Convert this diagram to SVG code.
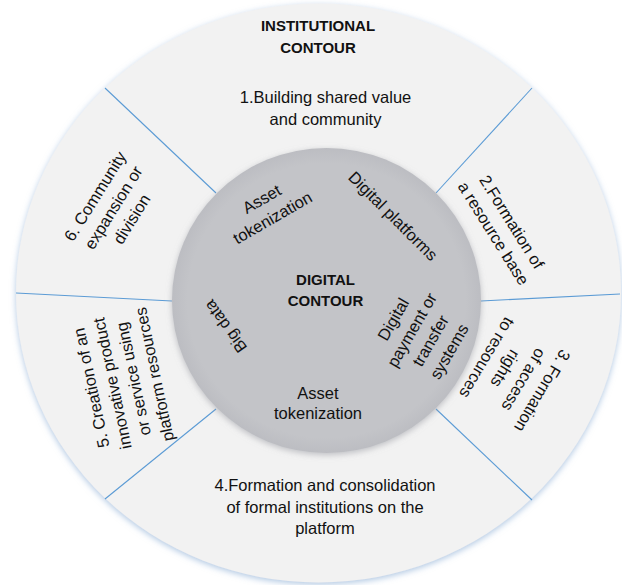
<svg xmlns="http://www.w3.org/2000/svg" width="622" height="585" viewBox="0 0 622 585">
<defs>
<filter id="outerShadow" x="-10%" y="-10%" width="120%" height="120%">
<feGaussianBlur in="SourceAlpha" stdDeviation="3"/>
<feOffset dx="0" dy="2" result="b"/>
<feFlood flood-color="#8fb0d6" flood-opacity="0.7"/>
<feComposite in2="b" operator="in"/>
<feMerge><feMergeNode/><feMergeNode in="SourceGraphic"/></feMerge>
</filter>
<filter id="innerShadow" x="-10%" y="-10%" width="120%" height="120%">
<feGaussianBlur in="SourceAlpha" stdDeviation="3"/>
<feOffset dx="0" dy="2" result="b"/>
<feFlood flood-color="#9a9ca3" flood-opacity="0.6"/>
<feComposite in2="b" operator="in"/>
<feMerge><feMergeNode/><feMergeNode in="SourceGraphic"/></feMerge>
</filter>
<radialGradient id="innerGrad" cx="50%" cy="50%" r="50%">
<stop offset="0.9" stop-color="#c3c4c8"/>
<stop offset="1" stop-color="#bcbdc2"/>
</radialGradient>
</defs>
<style>
text { font-family: "Liberation Sans", Arial, sans-serif; font-size: 16.5px; fill: #111; text-anchor: middle; }
.b { font-weight: bold; font-size: 15px; }
.sep { stroke: #5b9bd5; stroke-width: 1.1; fill: none; }
</style>
<rect width="622" height="585" fill="#ffffff"/>
<g id="outer-ring">
<ellipse cx="318.5" cy="293" rx="302.5" ry="289.5" fill="#f2f2f2" filter="url(#outerShadow)"/>
</g>
<g id="connectors">
<line class="sep" x1="105" y1="88" x2="216" y2="193"/>
<line class="sep" x1="532" y1="88" x2="436" y2="193"/>
<line class="sep" x1="16" y1="293" x2="172" y2="301"/>
<line class="sep" x1="481" y1="301" x2="620" y2="294"/>
<line class="sep" x1="216" y1="409" x2="105" y2="499"/>
<line class="sep" x1="436" y1="409" x2="532" y2="500"/>
</g>
<g id="inner-circle">
<ellipse cx="326.5" cy="300.5" rx="154.5" ry="152.5" fill="url(#innerGrad)" filter="url(#innerShadow)"/>
</g>
<g id="institutional-title">
<text class="b" x="318" y="31">INSTITUTIONAL</text>
<text class="b" x="318" y="53">CONTOUR</text>
</g>
<g id="digital-title">
<text class="b" x="325.5" y="285">DIGITAL</text>
<text class="b" x="325.5" y="306">CONTOUR</text>
</g>
<g id="seg1">
<text x="325.5" y="103">1.Building shared value</text>
<text x="325.5" y="124.5">and community</text>
</g>
<g id="seg2" transform="translate(502,228) rotate(58)">
<text x="0" y="-5.75">2.Formation of</text>
<text x="0" y="15.75">a resource base</text>
</g>
<g id="seg3" transform="translate(514,374) rotate(121)">
<text x="0" y="-27.25">3. Formation</text>
<text x="0" y="-5.75">of access</text>
<text x="0" y="15.75">rights</text>
<text x="0" y="37.25">to resources</text>
</g>
<g id="seg4">
<text x="325" y="490.5">4.Formation and consolidation</text>
<text x="325" y="512.5">of formal institutions on the</text>
<text x="325" y="534">platform</text>
</g>
<g id="seg5" transform="translate(123.5,381) rotate(-102)">
<text x="0" y="-27.25">5. Creation of an</text>
<text x="0" y="-5.75">innovative product</text>
<text x="0" y="15.75">or service using</text>
<text x="0" y="37.25">platform resources</text>
</g>
<g id="seg6" transform="translate(114,208) rotate(-58)">
<text x="0" y="-16.5">6. Community</text>
<text x="0" y="5">expansion or</text>
<text x="0" y="26.5">division</text>
</g>
<g id="d-asset-top" transform="translate(267.5,209) rotate(-30)">
<text x="0" y="-5.75">Asset</text>
<text x="0" y="15.75">tokenization</text>
</g>
<g id="d-platforms" transform="translate(392.5,216.5) rotate(45)">
<text x="0" y="5">Digital platforms</text>
</g>
<g id="d-payment" transform="translate(421.75,335.75) rotate(-60)">
<text x="0" y="-27.25">Digital</text>
<text x="0" y="-5.75">payment or</text>
<text x="0" y="15.75">transfer</text>
<text x="0" y="37.25">systems</text>
</g>
<g id="d-asset-bottom">
<text x="318" y="398.5">Asset</text>
<text x="318" y="418.5">tokenization</text>
</g>
<g id="d-bigdata" transform="translate(226,326) rotate(-126)">
<text x="0" y="5">Big data</text>
</g>
</svg>
